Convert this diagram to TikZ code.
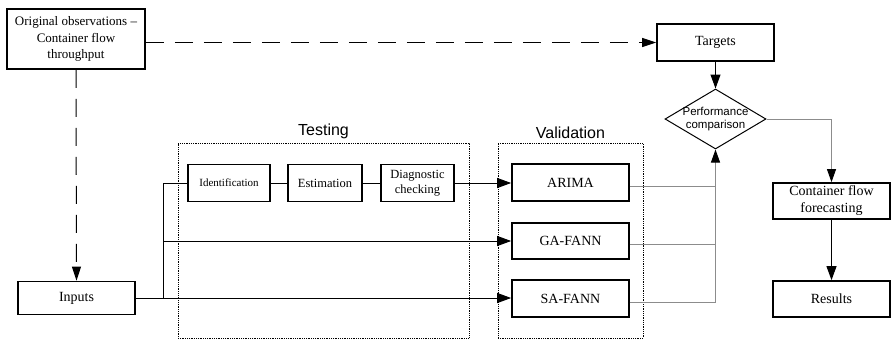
\documentclass[tikz,border=0pt]{standalone}
\usepackage{fontspec}
\setmainfont{Liberation Serif}
\setsansfont{Liberation Sans}
\usetikzlibrary{arrows.meta,shapes.geometric}

\tikzset{
  blk/.style={draw, line width=1.7pt, inner sep=0pt, align=center,
              font=\fontsize{14}{17}\selectfont},
  stepbox/.style={blk, font=\fontsize{12.5}{15}\selectfont},
  frame/.style={draw, densely dotted, line width=0.8pt, inner sep=0pt},
  title/.style={font=\sffamily\fontsize{16}{18}\selectfont},
  plain/.style={line width=1pt},
  link/.style={line width=1pt, -{Triangle[length=14pt,width=10pt]}},
  grayline/.style={draw=black!45, line width=0.9pt},
  graylink/.style={grayline, -{Triangle[length=13pt,width=9pt,color=black]}},
  dashlink/.style={line width=1pt, dash pattern=on 18pt off 11pt,
                   -{Triangle[length=14pt,width=9pt]}},
}

\begin{document}
\begin{tikzpicture}[x=1pt,y=-1pt]
\useasboundingbox (0,0) rectangle (891,340);

% testing and validation stages
\node[frame, minimum width=291pt, minimum height=195pt,
      label={[title]above:Testing}] (testbox) at (323.5,240.5) {};
\node[frame, minimum width=145pt, minimum height=195pt,
      label={[title]above:Validation}] (valbox) at (570.5,240.5) {};

% data boxes
\node[blk, font=\fontsize{13}{16.5}\selectfont, minimum width=138pt, minimum height=60pt]
  (orig) at (76,39) {Original observations --\\Container flow\\throughput};
\node[blk, minimum width=117pt, minimum height=37pt] (targets) at (715.5,42.5) {Targets};
\node[blk, minimum width=117pt, minimum height=33pt] (inputs) at (76.5,298) {Inputs};

% Box-Jenkins steps
\node[stepbox, font=\fontsize{11}{13}\selectfont, minimum width=82pt, minimum height=37pt]
  (ident) at (229,183) {Identification};
\node[stepbox, minimum width=74pt, minimum height=37pt] (estim) at (325,183) {Estimation};
\node[stepbox, minimum width=73pt, minimum height=37pt] (diag) at (417.5,183) {Diagnostic\\checking};

% models
\node[blk, minimum width=117pt, minimum height=37pt] (arima) at (570.5,182.5) {ARIMA};
\node[blk, minimum width=117pt, minimum height=36pt] (gafann) at (570.5,241) {GA-FANN};
\node[blk, minimum width=117pt, minimum height=37pt] (safann) at (570.5,298.5) {SA-FANN};

% comparison and outputs
\node[draw, diamond, line width=1pt, minimum width=101pt, minimum height=60pt, inner sep=0pt,
      label={[align=center, font=\sffamily\fontsize{11.5}{13}\selectfont]center:Performance\\comparison}]
  (cmp) at (715.5,119) {};
\node[blk, minimum width=117pt, minimum height=36pt] (cont) at (831.5,201) {Container flow\\forecasting};
\node[blk, minimum width=117pt, minimum height=36pt] (results) at (831.5,299) {Results};

% dashed data flows
\draw[dashlink] (targets.west -| orig.east) -- (targets.west);
\draw[dashlink] (orig.south) -- (inputs.north);

% inputs to the three models
\coordinate (br) at (163,298);
\draw[link] (inputs.east) -- (inputs.east -| safann.west);
\draw[plain] (br) -- (br |- ident.west) -- (ident.west);
\draw[link] (br |- gafann.west) -- (gafann.west);
\draw[plain] (ident.east) -- (estim.west);
\draw[plain] (estim.east) -- (diag.west);
\draw[link] (diag.east) -- (diag.east -| arima.west);

% model outputs to the comparison
\draw[grayline] ([yshift=-3.5pt]arima.east) -- ([yshift=-3.5pt]arima.east -| cmp.south);
\draw[grayline] ([yshift=-3.5pt]gafann.east) -- ([yshift=-3.5pt]gafann.east -| cmp.south);
\draw[graylink] ([yshift=-3.5pt]safann.east) -| (cmp.south);

\draw[link] (targets.south) -- (cmp.north);
\draw[graylink] (cmp.east) -| (cont.north);
\draw[link] (cont.south) -- (results.north);
\end{tikzpicture}
\end{document}
